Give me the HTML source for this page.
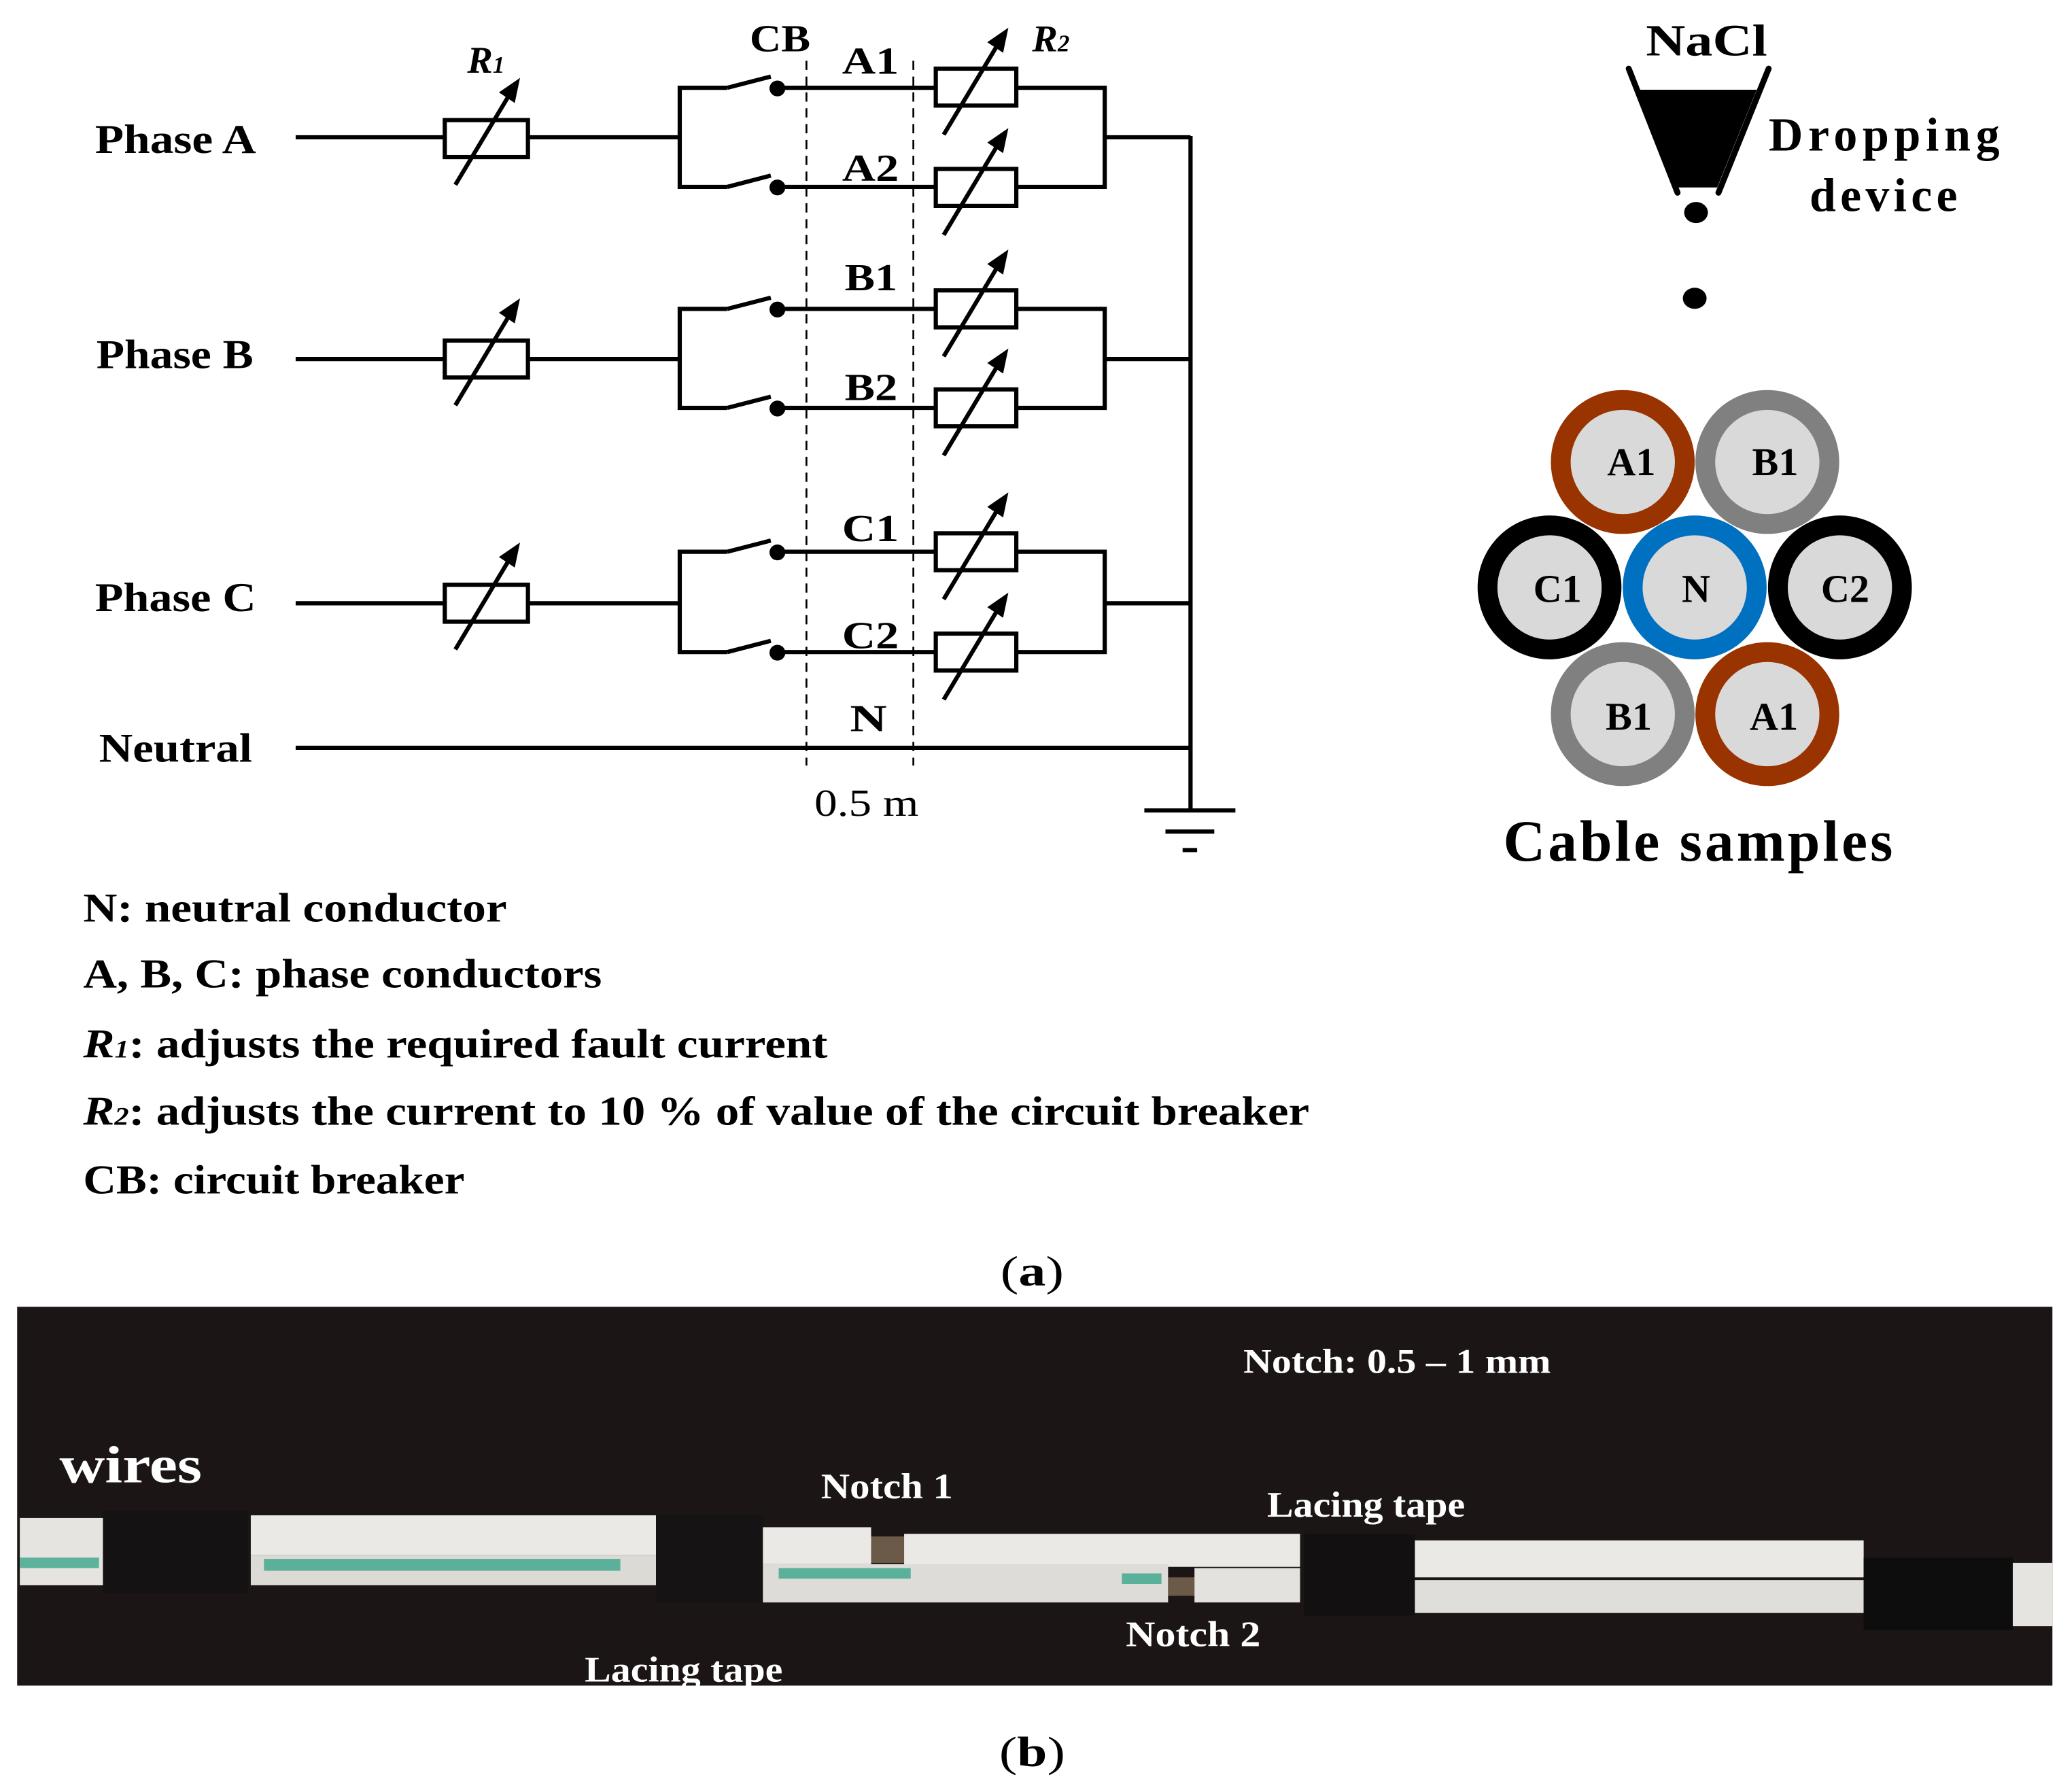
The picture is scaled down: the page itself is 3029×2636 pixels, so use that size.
<!DOCTYPE html>
<html><head><meta charset="utf-8"><style>html,body{margin:0;padding:0;background:#fff}svg{display:block}</style></head>
<body>
<svg xmlns="http://www.w3.org/2000/svg" width="3029" height="2636" viewBox="0 0 1560 1357.6" font-family="Liberation Serif, serif">
<defs>
<marker id="ah" markerWidth="10" markerHeight="10" refX="8" refY="5" orient="auto" markerUnits="userSpaceOnUse" viewBox="0 0 10 10">
</marker>
<g id="arr">
<line x1="-24" y1="40" x2="18" y2="-30" stroke="#000" stroke-width="3.2"/>
<polygon points="25,-41 9,-30 21,-22" fill="#000" transform="translate(0,0)"/>
</g>
<g id="arrB"><line x1="-24" y1="40" x2="16" y2="-27" stroke="#000" stroke-width="3.2"/><polygon points="24,-40 8,-32 22,-22" fill="#000"/></g>
</defs>
<rect width="1560" height="1358" fill="#fff"/>
<g stroke="#000" stroke-width="3.2" fill="none">
<!-- Phase A -->
<line x1="224" y1="104" x2="337" y2="104"/>
<rect x="337" y="91" width="63" height="28" fill="#fff"/>
<line x1="400" y1="104" x2="515" y2="104"/>
<!-- Phase B -->
<line x1="224" y1="272" x2="337" y2="272"/>
<rect x="337" y="258" width="63" height="28" fill="#fff"/>
<line x1="400" y1="272" x2="515" y2="272"/>
<!-- Phase C -->
<line x1="224" y1="457" x2="337" y2="457"/>
<rect x="337" y="443" width="63" height="28" fill="#fff"/>
<line x1="400" y1="457" x2="515" y2="457"/>
<!-- Neutral -->
<line x1="224" y1="566.5" x2="903" y2="566.5"/>
<!-- main vertical -->
<line x1="902" y1="103" x2="902" y2="614"/>
<line x1="867" y1="614" x2="936" y2="614"/>
<line x1="883" y1="630" x2="920" y2="630"/>
<line x1="896" y1="644" x2="907" y2="644"/>
</g>
<!-- branches -->
<g stroke="#000" stroke-width="3.2" fill="none">
<path d="M551,66.5 H515 V141.6 H551"/>
<path d="M551,66.5 L584,58"/><path d="M551,141.6 L584,133"/>
<path d="M590,66.5 H709 M770,66.5 H837 V141.6 H770 M590,141.6 H709 M837,104 H902"/>
<rect x="709" y="52" width="61" height="28" fill="#fff"/>
<rect x="709" y="128" width="61" height="28" fill="#fff"/>

<path d="M551,234 H515 V309 H551"/>
<path d="M551,234 L584,225.5"/><path d="M551,309 L584,300.5"/>
<path d="M590,234 H709 M770,234 H837 V309 H770 M590,309 H709 M837,272 H902"/>
<rect x="709" y="220" width="61" height="28" fill="#fff"/>
<rect x="709" y="295" width="61" height="28" fill="#fff"/>

<path d="M551,418 H515 V494 H551"/>
<path d="M551,418 L584,409.5"/><path d="M551,494 L584,485.5"/>
<path d="M590,418 H709 M770,418 H837 V494 H770 M590,494 H709 M837,457 H902"/>
<rect x="709" y="404" width="61" height="28" fill="#fff"/>
<rect x="709" y="480" width="61" height="28" fill="#fff"/>
</g>
<g fill="#000">
<circle cx="589" cy="67" r="6"/><circle cx="589" cy="142" r="6"/>
<circle cx="589" cy="234.5" r="6"/><circle cx="589" cy="309.5" r="6"/>
<circle cx="589" cy="418.5" r="6"/><circle cx="589" cy="494.5" r="6"/>
</g>
<!-- arrows -->
<use href="#arr" transform="translate(369,100)"/>
<use href="#arr" transform="translate(369,267)"/>
<use href="#arr" transform="translate(369,452)"/>
<use href="#arr" transform="translate(739,62)"/>
<use href="#arr" transform="translate(739,138)"/>
<use href="#arr" transform="translate(739,230)"/>
<use href="#arr" transform="translate(739,305)"/>
<use href="#arr" transform="translate(739,414)"/>
<use href="#arr" transform="translate(739,490)"/>
<!-- dashed -->
<g stroke="#000" stroke-width="1.4" stroke-dasharray="7,5">
<line x1="611" y1="46" x2="611" y2="580"/>
<line x1="692" y1="46" x2="692" y2="580"/>
</g>
<!-- labels -->
<g font-weight="bold" font-size="31" fill="#000">
<text x="72" y="116" textLength="122" lengthAdjust="spacingAndGlyphs">Phase A</text>
<text x="73" y="279" textLength="119" lengthAdjust="spacingAndGlyphs">Phase B</text>
<text x="72" y="463" textLength="122" lengthAdjust="spacingAndGlyphs">Phase C</text>
<text x="75" y="577" textLength="116" lengthAdjust="spacingAndGlyphs">Neutral</text>
<text x="568" y="39" font-size="29" textLength="46" lengthAdjust="spacingAndGlyphs">CB</text>
<text x="638" y="56" font-size="29" textLength="43" lengthAdjust="spacingAndGlyphs">A1</text>
<text x="638" y="137" font-size="29" textLength="43" lengthAdjust="spacingAndGlyphs">A2</text>
<text x="640" y="220" font-size="29" textLength="40" lengthAdjust="spacingAndGlyphs">B1</text>
<text x="640" y="303" font-size="29" textLength="40" lengthAdjust="spacingAndGlyphs">B2</text>
<text x="638" y="410" font-size="29" textLength="43" lengthAdjust="spacingAndGlyphs">C1</text>
<text x="638" y="491" font-size="29" textLength="43" lengthAdjust="spacingAndGlyphs">C2</text>
<text x="644" y="554" font-size="29" textLength="28" lengthAdjust="spacingAndGlyphs">N</text>
</g>
<text x="617" y="618" font-size="29" textLength="79" lengthAdjust="spacingAndGlyphs">0.5 m</text>
<text x="354" y="55" font-size="29" font-style="italic" font-weight="bold">R<tspan font-size="18">1</tspan></text>
<text x="782" y="39" font-size="29" font-style="italic" font-weight="bold">R<tspan font-size="18">2</tspan></text>

<!-- legend -->
<g font-weight="bold" font-size="31" fill="#000">
<text x="63" y="698" textLength="321" lengthAdjust="spacingAndGlyphs">N: neutral conductor</text>
<text x="63" y="748" textLength="393" lengthAdjust="spacingAndGlyphs">A, B, C: phase conductors</text>
<text x="63" y="801" textLength="564" lengthAdjust="spacingAndGlyphs"><tspan font-style="italic">R<tspan font-size="19">1</tspan></tspan>: adjusts the required fault current</text>
<text x="63" y="852" textLength="929" lengthAdjust="spacingAndGlyphs"><tspan font-style="italic">R<tspan font-size="19">2</tspan></tspan>: adjusts the current to 10 % of value of the circuit breaker</text>
<text x="63" y="904" textLength="289" lengthAdjust="spacingAndGlyphs">CB: circuit breaker</text>
</g>
<text x="758" y="974" font-size="32" textLength="48" lengthAdjust="spacingAndGlyphs">(<tspan font-weight="bold">a</tspan>)</text>

<!-- right side -->
<text x="1247" y="42" font-size="34" font-weight="bold" textLength="92" lengthAdjust="spacingAndGlyphs">NaCl</text>
<polygon points="1242,68 1331,68 1301,142 1271,142" fill="#000"/>
<g stroke="#000" stroke-width="4.5" stroke-linecap="round">
<line x1="1234" y1="52" x2="1271" y2="146"/>
<line x1="1340" y1="52" x2="1302" y2="146"/>
</g>
<ellipse cx="1285" cy="161" rx="9" ry="8" fill="#000"/>
<ellipse cx="1284" cy="226" rx="9" ry="8" fill="#000"/>
<text x="1340" y="114" font-size="36" font-weight="bold" textLength="175" lengthAdjust="spacing">Dropping</text>
<text x="1371" y="160" font-size="36" font-weight="bold" textLength="112" lengthAdjust="spacing">device</text>

<g>
<circle cx="1229.5" cy="350" r="47" fill="#D9D9D9" stroke="#993300" stroke-width="15"/>
<circle cx="1339" cy="350" r="47" fill="#D9D9D9" stroke="#808080" stroke-width="15"/>
<circle cx="1174" cy="445" r="47" fill="#D9D9D9" stroke="#000" stroke-width="15"/>
<circle cx="1394" cy="445" r="47" fill="#D9D9D9" stroke="#000" stroke-width="15"/>
<circle cx="1284" cy="445" r="47" fill="#D9D9D9" stroke="#0070C0" stroke-width="15"/>
<circle cx="1229.5" cy="541" r="47" fill="#D9D9D9" stroke="#808080" stroke-width="15"/>
<circle cx="1339" cy="541" r="47" fill="#D9D9D9" stroke="#993300" stroke-width="15"/>
</g>
<g font-weight="bold" font-size="30" text-anchor="middle" fill="#000">
<text x="1236" y="360">A1</text>
<text x="1345" y="360">B1</text>
<text x="1180" y="456">C1</text>
<text x="1285" y="456">N</text>
<text x="1398" y="456">C2</text>
<text x="1234" y="553">B1</text>
<text x="1344" y="553">A1</text>
</g>
<text x="1139" y="652" font-size="44" font-weight="bold" textLength="295" lengthAdjust="spacing">Cable samples</text>

<!-- photo -->
<rect x="13" y="990" width="1542" height="287" fill="#1b1615"/>
<g>
<rect x="15" y="1150" width="63" height="51" fill="#e6e4e0"/>
<rect x="78" y="1145" width="110" height="62" fill="#141212"/>
<rect x="190" y="1148" width="307" height="30" fill="#ebe9e5"/>
<rect x="190" y="1178" width="307" height="23" fill="#dcdad5"/>
<rect x="497" y="1148" width="81" height="66" fill="#151313"/>
<rect x="578" y="1157" width="82" height="28" fill="#ebe9e5"/>
<rect x="660" y="1164" width="25" height="20" fill="#6b5a48"/>
<rect x="685" y="1162" width="300" height="25" fill="#ebe9e5"/>
<rect x="578" y="1185" width="307" height="29" fill="#dedcd8"/>
<rect x="885" y="1195" width="20" height="14" fill="#6b5a48"/>
<rect x="905" y="1188" width="80" height="26" fill="#e4e2de"/>
<rect x="988" y="1162" width="84" height="62" fill="#121010"/>
<rect x="1072" y="1167" width="340" height="28" fill="#ebe9e5"/>
<rect x="1072" y="1197" width="340" height="25" fill="#e0deda"/>
<rect x="1412" y="1180" width="113" height="55" fill="#0e0d0d"/>
<rect x="1525" y="1184" width="30" height="48" fill="#e6e4e0"/>
<g fill="#3aa58a" opacity="0.8">
<rect x="15" y="1180" width="60" height="8"/>
<rect x="200" y="1181" width="270" height="9"/>
<rect x="590" y="1188" width="100" height="8"/>
<rect x="850" y="1192" width="30" height="8"/>
</g>
</g>
<g fill="#fff" font-weight="bold">
<text x="942" y="1040" font-size="26" textLength="233" lengthAdjust="spacingAndGlyphs">Notch: 0.5 – 1 mm</text>
<text x="45" y="1123" font-size="40" textLength="108" lengthAdjust="spacingAndGlyphs">wires</text>
<text x="622" y="1135" font-size="27" textLength="100" lengthAdjust="spacingAndGlyphs">Notch 1</text>
<text x="960" y="1149" font-size="27" textLength="150" lengthAdjust="spacingAndGlyphs">Lacing tape</text>
<text x="853" y="1247" font-size="27" textLength="102" lengthAdjust="spacingAndGlyphs">Notch 2</text>
<text x="443" y="1274" font-size="27" textLength="150" lengthAdjust="spacingAndGlyphs">Lacing tape</text>
</g>
<text x="757" y="1338" font-size="32" textLength="50" lengthAdjust="spacingAndGlyphs">(<tspan font-weight="bold">b</tspan>)</text>
</svg>
</body></html>
